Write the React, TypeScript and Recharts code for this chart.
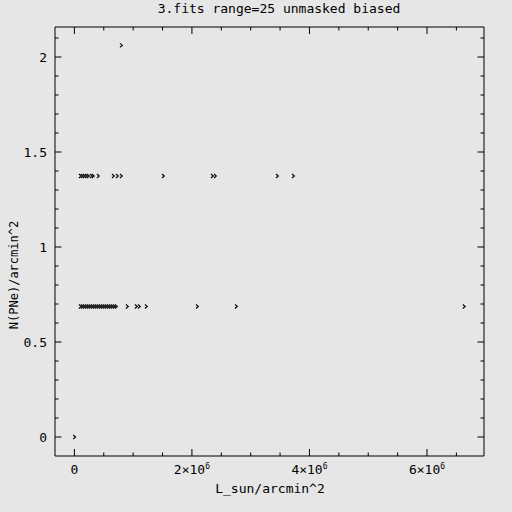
import React from 'react';
import { ScatterChart, Scatter, XAxis, YAxis } from 'recharts';

// counts of PNe per arcmin^2 come in steps of one object per area
const levels = [0, 0.687, 1.374, 2.061];

// L_sun/arcmin^2 of the fields, grouped by level
const xAtZero = [0.0e6];
const xAtOne = [
  0.097e6, 0.131e6, 0.165e6, 0.199e6, 0.233e6, 0.267e6, 0.301e6, 0.335e6,
  0.369e6, 0.403e6, 0.437e6, 0.471e6, 0.505e6, 0.539e6, 0.573e6, 0.607e6,
  0.641e6, 0.675e6, 0.71e6, 0.897e6, 1.05e6, 1.101e6, 1.22e6, 2.089e6,
  2.753e6, 6.63e6,
];
const xAtTwo = [
  0.097e6, 0.131e6, 0.165e6, 0.199e6, 0.233e6, 0.284e6, 0.318e6, 0.403e6,
  0.659e6, 0.727e6, 0.795e6, 1.51e6, 2.344e6, 2.395e6, 3.45e6, 3.723e6,
];
const xAtThree = [0.795e6];

const xTicks = [0, 0.5e6, 1e6, 1.5e6, 2e6, 2.5e6, 3e6, 3.5e6, 4e6, 4.5e6, 5e6, 5.5e6, 6e6, 6.5e6];
const xMajor = [0, 2e6, 4e6, 6e6];
const xMajorLabels = ['0', '2×10', '4×10', '6×10'];
const yTicks = [0, 0.1, 0.2, 0.3, 0.4, 0.5, 0.6, 0.7, 0.8, 0.9, 1, 1.1, 1.2, 1.3, 1.4, 1.5, 1.6, 1.7, 1.8, 1.9, 2, 2.1];
const yMajor = [0, 0.5, 1, 1.5, 2];
const yMajorLabels = ['0', '0.5', '1', '1.5', '2'];

const FONT = '"DejaVu Sans Mono", "Liberation Mono", monospace';
const BG = '#e6e6e6';

const points = [
  ...xAtZero.map((x) => ({ x, y: levels[0] })),
  ...xAtOne.map((x) => ({ x, y: levels[1] })),
  ...xAtTwo.map((x) => ({ x, y: levels[2] })),
  ...xAtThree.map((x) => ({ x, y: levels[3] })),
];

function Arrow(props: any) {
  const { cx, cy } = props;
  if (cx == null || cy == null) return null;
  return (
    <path
      d={`M${cx - 1.2},${cy - 2} L${cx + 1.2},${cy} L${cx - 1.2},${cy + 2}`}
      stroke="#000"
      strokeWidth={1.1}
      fill="none"
    />
  );
}

const Nothing = () => null;

const near = (list: number[], v: number, eps: number) => list.findIndex((m) => Math.abs(m - v) < eps);

function BottomTick(props: any) {
  const { x, y, payload } = props;
  const axisY = y - 13;
  const i = near(xMajor, payload.value, 1);
  const len = i >= 0 ? 7 : 3.5;
  return (
    <g>
      <line x1={x} x2={x} y1={axisY} y2={axisY - len} stroke="#000" />
      {i >= 0 && (
        <text x={x} y={y} dy="0.35em" textAnchor="middle" fontFamily={FONT} fontSize={13} fill="#000">
          {xMajorLabels[i]}
          {i > 0 && (
            <tspan dy={-5} fontSize={8}>
              6
            </tspan>
          )}
        </text>
      )}
    </g>
  );
}

function TopTick(props: any) {
  const { x, y, payload } = props;
  const len = near(xMajor, payload.value, 1) >= 0 ? 7 : 3.5;
  return <line x1={x} x2={x} y1={y} y2={y + len} stroke="#000" />;
}

function LeftTick(props: any) {
  const { x, y, payload } = props;
  const axisX = x + 8;
  const i = near(yMajor, payload.value, 1e-6);
  const len = i >= 0 ? 6.5 : 3.5;
  return (
    <g>
      <line x1={axisX} x2={axisX + len} y1={y} y2={y} stroke="#000" />
      {i >= 0 && (
        <text x={x} y={y} dy="0.35em" textAnchor="end" fontFamily={FONT} fontSize={13} fill="#000">
          {yMajorLabels[i]}
        </text>
      )}
    </g>
  );
}

function RightTick(props: any) {
  const { x, y, payload } = props;
  const len = near(yMajor, payload.value, 1e-6) >= 0 ? 6.5 : 3.5;
  return <line x1={x} x2={x - len} y1={y} y2={y} stroke="#000" />;
}

export default function App() {
  return (
    <div style={{ position: 'absolute', left: 0, top: 0, width: 512, height: 512, background: BG }}>
      <div
        style={{
          position: 'absolute',
          top: 1,
          left: 279,
          transform: 'translateX(-50%)',
          whiteSpace: 'nowrap',
          fontFamily: FONT,
          fontSize: 13,
          lineHeight: '15px',
          color: '#000',
        }}
      >
        3.fits range=25 unmasked biased
      </div>
      <ScatterChart width={512} height={512} margin={{ top: 26, right: 27, left: 0, bottom: 0 }}>
        <XAxis
          dataKey="x"
          type="number"
          domain={[-0.33e6, 6.97e6]}
          allowDataOverflow
          ticks={xTicks}
          interval={0}
          height={56}
          tickSize={0}
          tickMargin={13}
          tickLine={false}
          axisLine={{ stroke: '#000' }}
          tick={<BottomTick />}
          label={{
            content: () => (
              <text x={270} y={488} dy="0.35em" textAnchor="middle" fontFamily={FONT} fontSize={13} fill="#000">
                L_sun/arcmin^2
              </text>
            ),
          }}
        />
        <XAxis
          xAxisId="top"
          dataKey="x"
          orientation="top"
          type="number"
          domain={[-0.33e6, 6.97e6]}
          allowDataOverflow
          ticks={xTicks}
          interval={0}
          height={1}
          tickSize={0}
          tickMargin={0}
          tickLine={false}
          axisLine={{ stroke: '#000' }}
          tick={<TopTick />}
        />
        <YAxis
          dataKey="y"
          type="number"
          domain={[-0.1, 2.158]}
          allowDataOverflow
          ticks={yTicks}
          interval={0}
          width={55}
          tickSize={0}
          tickMargin={8}
          tickLine={false}
          axisLine={{ stroke: '#000' }}
          tick={<LeftTick />}
          label={{
            content: () => (
              <text
                x={14}
                y={275}
                dy="0.35em"
                textAnchor="middle"
                transform="rotate(-90 14 275)"
                fontFamily={FONT}
                fontSize={12}
                fill="#000"
              >
                N(PNe)/arcmin^2
              </text>
            ),
          }}
        />
        <YAxis
          yAxisId="right"
          dataKey="y"
          orientation="right"
          type="number"
          domain={[-0.1, 2.158]}
          allowDataOverflow
          ticks={yTicks}
          interval={0}
          width={1}
          tickSize={0}
          tickMargin={0}
          tickLine={false}
          axisLine={{ stroke: '#000' }}
          tick={<RightTick />}
        />
        <Scatter data={points} shape={<Arrow />} isAnimationActive={false} />
        <Scatter
          data={points}
          xAxisId="top"
          yAxisId="right"
          shape={<Nothing />}
          isAnimationActive={false}
        />
      </ScatterChart>
    </div>
  );
}
